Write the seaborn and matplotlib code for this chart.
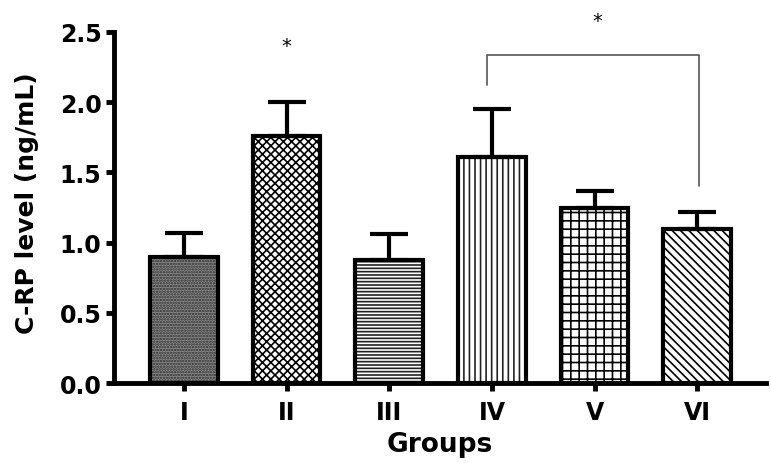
import matplotlib
matplotlib.use('Agg')
import matplotlib.pyplot as plt
import seaborn as sns
import numpy as np
import pandas as pd
from matplotlib.patches import Rectangle

# ---- data ----
groups = ['I', 'II', 'III', 'IV', 'V', 'VI']
means = [0.90, 1.76, 0.88, 1.61, 1.25, 1.10]
sds = [0.17, 0.24, 0.18, 0.34, 0.12, 0.12]
y_ticks = [0.0, 0.5, 1.0, 1.5, 2.0, 2.5]
y_label = 'C-RP level (ng/mL)'
x_label = 'Groups'
sig_single = 'II'            # star above a single group
bracket_groups = ('IV', 'VI')  # significance bracket

# ---- styles ----
hatches = ['......', 'xxxx', '-----', '|||', '++', '\\\\\\\\']
faces = ['#8c8c8c', 'white', 'white', 'white', 'white', 'white']
hatch_cols = ['#2a2a2a', 'black', '#222222', '#222222', 'black', 'black']

sns.set_style('ticks')
plt.rcParams['font.family'] = ['DejaVu Sans']
plt.rcParams['hatch.linewidth'] = 1.2
for k in ['text.color', 'axes.labelcolor', 'xtick.color', 'ytick.color', 'axes.edgecolor']:
    plt.rcParams[k] = 'black'

df = pd.DataFrame({'group': groups, 'mean': means, 'sd': sds})

fig = plt.figure(figsize=(7.71, 4.64), dpi=100)
ax = fig.add_axes([0.148, 0.172, 0.8455, 0.757])

sns.barplot(data=df, x='group', y='mean', order=groups, ax=ax, width=0.66,
            errorbar=None, color='white', saturation=1)

centers = []
for p, h, fc, hc in zip(ax.patches, hatches, faces, hatch_cols):
    p.set_facecolor(fc)
    p.set_hatch(h)
    p.set_edgecolor(hc)
    p.set_linewidth(0)
    p.set_zorder(2)
    outline = Rectangle((p.get_x(), p.get_y()), p.get_width(), p.get_height(),
                        fill=False, edgecolor='black', linewidth=3.0, zorder=3)
    ax.add_patch(outline)
    centers.append(p.get_x() + p.get_width() / 2)

centers = np.array(centers)
ax.errorbar(centers, df['mean'], yerr=[np.zeros(len(sds)), df['sd']], fmt='none',
            ecolor='black', elinewidth=3, capsize=13.5, capthick=3, zorder=4)

ax.set_xlim(-0.68, 5.67)
ax.set_ylim(0, 2.5)
ax.set_yticks(y_ticks)
ax.set_yticklabels([f'{v:.1f}' for v in y_ticks])

for s in ['top', 'right']:
    ax.spines[s].set_visible(False)
for s in ['left', 'bottom']:
    ax.spines[s].set_linewidth(3.5)
    ax.spines[s].set_color('black')
    ax.spines[s].set_capstyle('projecting')

ax.tick_params(axis='both', width=3.5, length=6, direction='out', labelsize=17,
               color='black', labelcolor='black')
ax.tick_params(axis='x', pad=6)
ax.tick_params(axis='y', pad=3)
for t in ax.get_xticklabels() + ax.get_yticklabels():
    t.set_fontweight('bold')

ax.set_xlabel(x_label, fontsize=19, fontweight='bold', color='black')
ax.set_ylabel(y_label, fontsize=18, fontweight='bold', color='black')
ax.xaxis.set_label_coords(0.50, -0.135)
ax.yaxis.set_label_coords(-0.115, 0.515)

# significance annotations
i2 = groups.index(sig_single)
ax.text(centers[i2], 2.40, '*', ha='center', va='center', fontsize=14, clip_on=False)
a, b = groups.index(bracket_groups[0]), groups.index(bracket_groups[1])
xa, xb = centers[a] - 0.05, centers[b] + 0.02
ax.plot([xa, xa, xb, xb], [2.12, 2.335, 2.335, 1.40], color='#555555', lw=1.2,
        clip_on=False, zorder=5)
ax.text((centers[a] + centers[b]) / 2 + 0.03, 2.58, '*', ha='center', va='center',
        fontsize=14, clip_on=False)

fig.savefig('out.png', dpi=100)
